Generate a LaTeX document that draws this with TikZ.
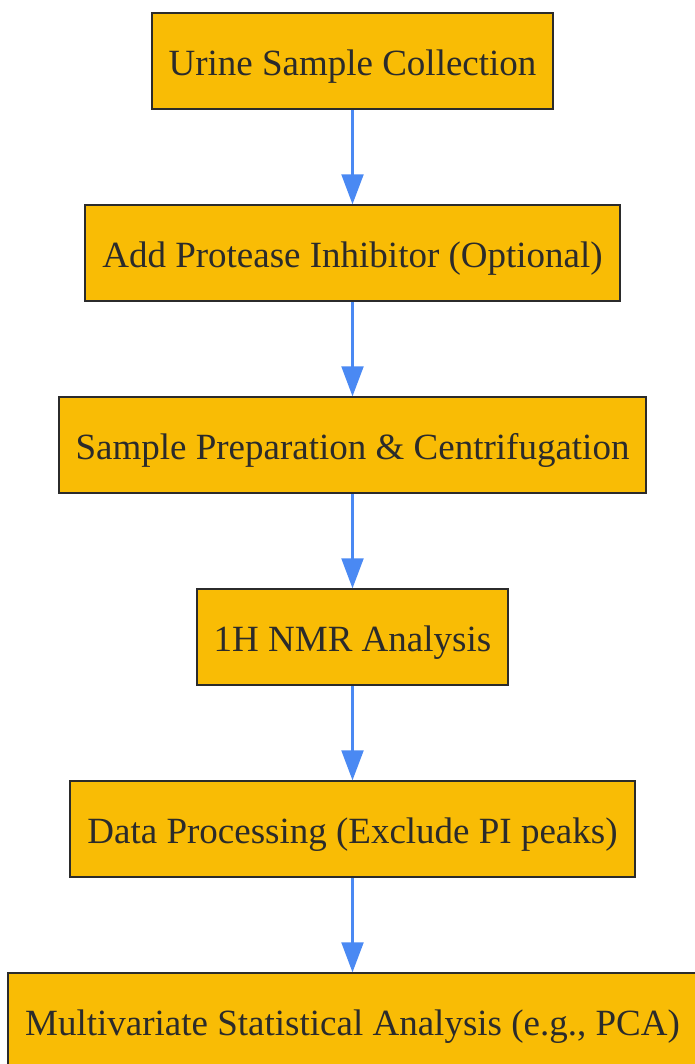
\documentclass[tikz,border=0pt]{standalone}
\usepackage{fontspec}
\setmainfont{Liberation Serif}
\usepackage{xcolor}
\usetikzlibrary{positioning, arrows.meta}

\definecolor{stepfill}{HTML}{F9BC05}
\definecolor{stepline}{HTML}{2B2B2B}
\definecolor{flowblue}{HTML}{4A89F3}

\begin{document}
\begin{tikzpicture}[x=1pt, y=1pt, node distance=94pt]
	\tikzstyle{stepbox}=[draw=stepline, fill=stepfill, line width=2pt, minimum height=96pt, inner xsep=17pt, text height=29pt, text depth=0pt, text=stepline, font=\fontsize{37}{44}\selectfont]
	\tikzstyle{flow}=[draw=flowblue, line width=2.2pt, -{Triangle[length=30pt, width=22pt]}]
	\useasboundingbox (0,0) rectangle (694,-1064);
	
	\node[stepbox] (collect) at (352.5,-61.3) {Urine Sample Collection};
	\node[stepbox, below=of collect] (inhib) {Add Protease Inhibitor (Optional)};
	\node[stepbox, below=of inhib] (prep) {Sample Preparation \& Centrifugation};
	\node[stepbox, below=of prep] (nmr) {1H NMR Analysis};
	\node[stepbox, below=of nmr] (proc) {Data Processing (Exclude PI peaks)};
	\node[stepbox, below=of proc] (stats) {Multivariate Statistical Analysis (e.g., PCA)};
	
	\draw[flow] (collect) -- (inhib);
	\draw[flow] (inhib) -- (prep);
	\draw[flow] (prep) -- (nmr);
	\draw[flow] (nmr) -- (proc);
	\draw[flow] (proc) -- (stats);
\end{tikzpicture}
\end{document}
